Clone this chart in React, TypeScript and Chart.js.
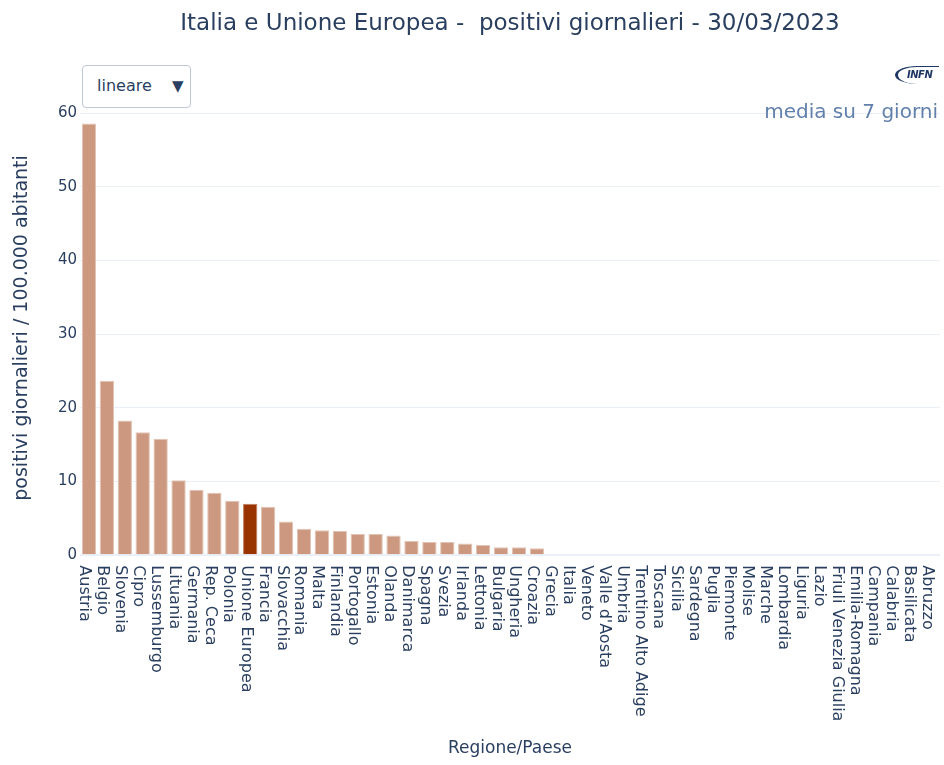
import React, { useEffect, useRef } from "react";
import { Chart, registerables } from "chart.js";

Chart.register(...registerables);

// ---- data ----
const categories = [
  "Austria", "Belgio", "Slovenia", "Cipro", "Lussemburgo", "Lituania", "Germania",
  "Rep. Ceca", "Polonia", "Unione Europea", "Francia", "Slovacchia", "Romania", "Malta",
  "Finlandia", "Portogallo", "Estonia", "Olanda", "Danimarca", "Spagna", "Svezia",
  "Irlanda", "Lettonia", "Bulgaria", "Ungheria", "Croazia", "Grecia", "Italia", "Veneto",
  "Valle d'Aosta", "Umbria", "Trentino Alto Adige", "Toscana", "Sicilia", "Sardegna",
  "Puglia", "Piemonte", "Molise", "Marche", "Lombardia", "Liguria", "Lazio",
  "Friuli Venezia Giulia", "Emilia-Romagna", "Campania", "Calabria", "Basilicata", "Abruzzo",
];
const values = [
  58.6, 23.7, 18.3, 16.7, 15.8, 10.2, 8.9,
  8.5, 7.4, 7.0, 6.6, 4.6, 3.6, 3.4,
  3.3, 2.9, 2.9, 2.7, 1.95, 1.8, 1.8,
  1.6, 1.4, 1.1, 1.1, 0.95, 0, 0, 0,
  0, 0, 0, 0, 0, 0,
  0, 0, 0, 0, 0, 0, 0,
  0, 0, 0, 0, 0, 0,
];
const highlighted = ["Unione Europea"];
const yTickStep = 10;
const yAxisMax = 61.7;
const titleText = "Italia e Unione Europea -  positivi giornalieri - 30/03/2023";
const yTitleText = "positivi giornalieri / 100.000 abitanti";
const xTitleText = "Regione/Paese";
const noteText = "media su 7 giorni";
const scaleMenuLabel = "lineare";

// ---- styles ----
const FONT = "'DejaVu Sans', Verdana, sans-serif";
const TEXT = "rgb(42,63,95)";
const GRID = "#EBF0F8";
const BAR = "rgb(204,153,128)";
const BAR_BORDER = "rgb(226,196,181)";
const BAR_HI = "#993300";
const BAR_HI_BORDER = "rgb(190,125,95)";

const xLabelsPlugin = {
  id: "xLabelsRotated",
  afterDraw(chart: any) {
    const { ctx, scales, chartArea } = chart;
    const xs = scales.x;
    ctx.save();
    ctx.font = `16px ${FONT}`;
    ctx.fillStyle = TEXT;
    ctx.textAlign = "left";
    ctx.textBaseline = "alphabetic";
    categories.forEach((c, i) => {
      const x = xs.getPixelForValue(i);
      ctx.save();
      ctx.translate(x - 8.5, chartArea.bottom + 10);
      ctx.rotate(Math.PI / 2);
      ctx.fillText(c, 0, 0);
      ctx.restore();
    });
    ctx.restore();
  },
};

export default function App() {
  const canvasRef = useRef<HTMLCanvasElement | null>(null);

  useEffect(() => {
    if (!canvasRef.current) return;
    const chart = new Chart(canvasRef.current, {
      type: "bar",
      data: {
        labels: categories,
        datasets: [
          {
            data: values,
            backgroundColor: categories.map((c) => (highlighted.includes(c) ? BAR_HI : BAR)),
            borderColor: categories.map((c) => (highlighted.includes(c) ? BAR_HI_BORDER : BAR_BORDER)),
            borderWidth: 1,
            barPercentage: 0.8,
            categoryPercentage: 1,
          },
        ],
      },
      options: {
        animation: false,
        responsive: false,
        maintainAspectRatio: false,
        events: [],
        layout: { padding: { left: 0, right: 4, top: 0, bottom: 0 } },
        plugins: {
          legend: { display: false },
          tooltip: { enabled: false },
          title: {
            display: true,
            text: titleText,
            fullSize: false,
            color: TEXT,
            font: { family: FONT, size: 23, weight: "normal" },
            padding: { top: 10, bottom: 63 },
          },
        },
        scales: {
          x: {
            type: "category",
            grid: { display: false },
            border: { display: false },
            ticks: { display: false },
            title: {
              display: true,
              text: xTitleText,
              color: TEXT,
              font: { family: FONT, size: 17 },
              padding: { top: 0, bottom: 6 },
            },
            afterFit: (scale: any) => {
              scale.height = 209.7;
            },
          },
          y: {
            type: "linear",
            min: 0,
            max: yAxisMax,
            grid: {
              color: GRID,
              lineWidth: (ctx: any) => (ctx.tick && ctx.tick.value === 0 ? 2 : 1),
              drawTicks: false,
            },
            border: { display: false },
            ticks: {
              stepSize: yTickStep,
              includeBounds: false,
              padding: 3,
              color: TEXT,
              font: { family: FONT, size: 15 },
            },
            title: {
              display: true,
              text: yTitleText,
              color: TEXT,
              font: { family: FONT, size: 19 },
              padding: { top: 11, bottom: 0 },
            },
            afterFit: (scale: any) => {
              scale.width = 80;
            },
          },
        },
      },
      plugins: [xLabelsPlugin],
    } as any);
    return () => chart.destroy();
  }, []);

  return (
    <div style={{ position: "absolute", left: 0, top: 0, width: 944, height: 765, background: "#fff", fontFamily: FONT }}>
      <canvas ref={canvasRef} width={944} height={765} style={{ display: "block", width: 944, height: 765 }} />
      <div
        style={{
          position: "absolute",
          left: 82,
          top: 65,
          width: 107,
          height: 41,
          border: "1px solid rgb(190,200,216)",
          borderRadius: 4,
          background: "#fff",
          boxSizing: "content-box",
          color: TEXT,
        }}
      >
        <span style={{ position: "absolute", left: 14, top: 10, fontSize: 16, lineHeight: "20px" }}>{scaleMenuLabel}</span>
        <span style={{ position: "absolute", left: 89, top: 11, fontSize: 15, lineHeight: "18px" }}>▼</span>
      </div>
      <div
        style={{
          position: "absolute",
          right: 6,
          top: 99,
          fontSize: 20,
          lineHeight: "24px",
          color: "rgb(98,128,172)",
          whiteSpace: "nowrap",
        }}
      >
        {noteText}
      </div>
      <div
        style={{
          position: "absolute",
          left: 895,
          top: 66,
          width: 44,
          height: 18,
          borderLeft: "3px solid rgb(30,55,100)",
          borderTop: "1px solid rgb(30,55,100)",
          borderRadius: "50% 0 0 50%",
          boxSizing: "border-box",
        }}
      >
        <span
          style={{
            position: "absolute",
            left: 9,
            top: 2,
            fontSize: 10,
            lineHeight: "12px",
            fontWeight: "bold",
            fontStyle: "italic",
            color: "rgb(30,55,100)",
            letterSpacing: -0.5,
          }}
        >
          INFN
        </span>
      </div>
    </div>
  );
}
